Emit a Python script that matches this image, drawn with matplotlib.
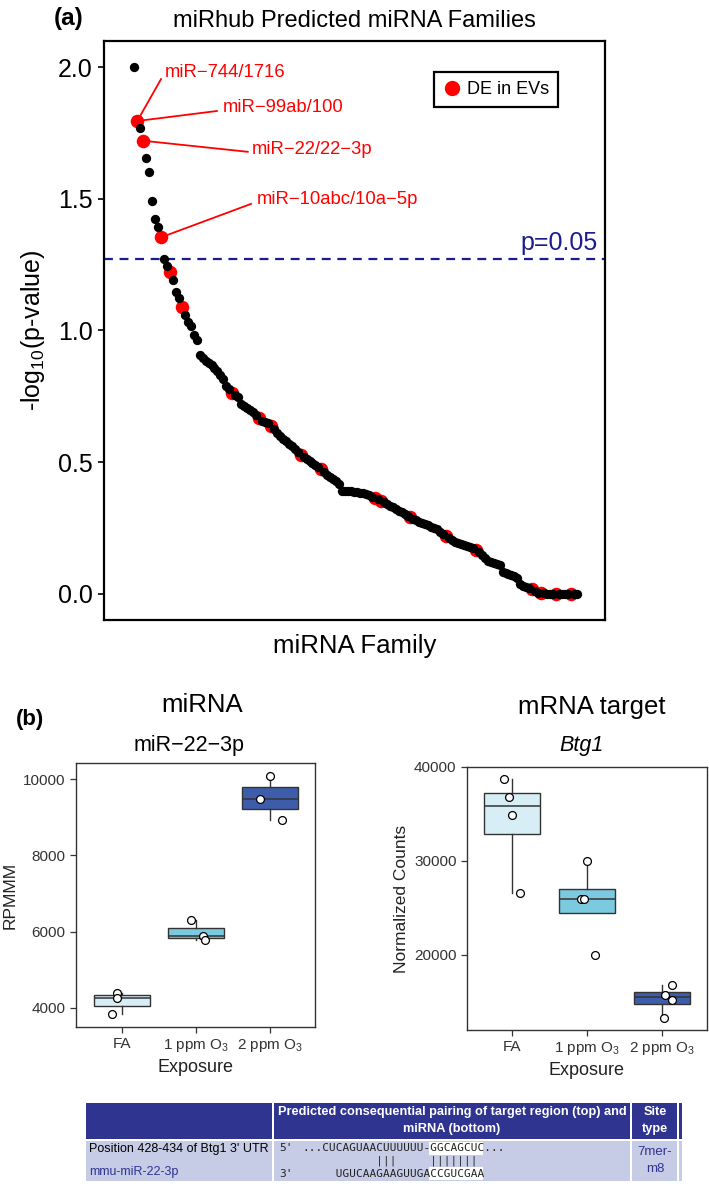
import matplotlib
matplotlib.use("Agg")
import matplotlib.pyplot as plt
from matplotlib.lines import Line2D
from matplotlib.patches import Rectangle
import numpy as np

plt.rcParams['font.family'] = ['Liberation Sans', 'DejaVu Sans']
plt.rcParams['mathtext.default'] = 'regular'

# ── DATA ──────────────────────────────────────────────────
# panel (a): -log10(p) of miRhub predicted families, ranked
neglogp = [
    2.000, 1.796, 1.770, 1.721, 1.656, 1.601, 1.493, 1.423, 1.395, 1.354,
    1.271, 1.245, 1.224, 1.192, 1.148, 1.123, 1.088, 1.059, 1.034, 1.017,
    0.983, 0.964, 0.907, 0.897, 0.886, 0.878, 0.869, 0.858, 0.848, 0.830,
    0.815, 0.790, 0.778, 0.763, 0.755, 0.748, 0.722, 0.712, 0.705, 0.699,
    0.690, 0.678, 0.667, 0.658, 0.652, 0.647, 0.638, 0.625, 0.610, 0.598,
    0.588, 0.579, 0.570, 0.560, 0.548, 0.537, 0.527, 0.518, 0.510, 0.503,
    0.497, 0.488, 0.480, 0.473, 0.462, 0.452, 0.443, 0.434, 0.428, 0.418,
    0.392, 0.390, 0.389, 0.389, 0.388, 0.386, 0.384, 0.382, 0.379, 0.375,
    0.368, 0.362, 0.358, 0.353, 0.347, 0.341, 0.335, 0.329, 0.322, 0.315,
    0.309, 0.302, 0.297, 0.292, 0.285, 0.279, 0.274, 0.270, 0.265, 0.260,
    0.255, 0.250, 0.245, 0.236, 0.226, 0.219, 0.210, 0.203, 0.198, 0.194,
    0.190, 0.186, 0.181, 0.176, 0.172, 0.167, 0.160, 0.148, 0.136, 0.125,
    0.120, 0.116, 0.112, 0.108, 0.083, 0.077, 0.073, 0.070, 0.068, 0.060,
    0.036, 0.030, 0.025, 0.020, 0.017, 0.010, 0.004, 0.002, 0.001, 0.000,
    0.000, 0.000, 0.000, 0.000, 0.000, 0.000, 0.000, 0.000, 0.000, 0.000,
]
# ranks of families that are DE in EVs
de_ranks = [1, 3, 9, 12, 16, 33, 42, 46, 56, 63, 81, 83, 93, 105, 115,
            134, 137, 142, 147]
label_ranks = [1, 1, 3, 9]
label_names = ['miR\u2212744/1716', 'miR\u221299ab/100',
               'miR\u221222/22\u22123p', 'miR\u221210abc/10a\u22125p']
p_cut = 1.27

# panel (b)
exposures = ['FA', '1 ppm O$_3$', '2 ppm O$_3$']
box_colors = ['#d8eef6', '#7ccae0', '#3d5dab']
mirna_vals = [[4400, 4270, 3830], [6295, 5895, 5790], [10080, 9480, 8930]]
mirna_jit = [[-0.06, -0.06, -0.14], [-0.06, 0.10, 0.13], [0.0, -0.13, 0.16]]
mrna_vals = [[38720, 36800, 34890, 26600], [30000, 25960, 25900, 20000],
             [16800, 15740, 15210, 13300]]
mrna_jit = [[-0.11, -0.04, 0.0, 0.11], [0.0, -0.08, -0.04, 0.10],
            [0.13, 0.04, 0.13, 0.03]]

W, H = 709, 1192
fig = plt.figure(figsize=(W / 100, H / 100), dpi=100)

# ── Panel (a) ─────────────────────────────────────────────
ax = fig.add_axes([104 / W, 1 - 620 / H, 501 / W, 579 / H])
x = np.arange(len(neglogp))
y = np.array(neglogp)
is_de = np.isin(x, de_ranks)

# callout placement: (text x, text y, line start x, line start y)
callouts = [(10.2, 1.979, 9.0, 1.955), (29.8, 1.848, 27.8, 1.834),
            (39.6, 1.689, 38.2, 1.679), (41.2, 1.496, 39.3, 1.481)]
for r, name, (tx, ty, lx, ly) in zip(label_ranks, label_names, callouts):
    ax.plot([lx, x[r]], [ly, y[r]], color='red', lw=1.3, zorder=1)
    ax.text(tx, ty, name, color='red', fontsize=13.3, va='center', ha='left')

ax.scatter(x[is_de], y[is_de], s=95, color='red', zorder=2, linewidths=0)
ax.scatter(x[~is_de], y[~is_de], s=45, color='black', zorder=3, linewidths=0)
ax.axhline(p_cut, color='#1c1c8c', lw=1.6, ls=(0, (4, 3)), zorder=0)
ax.text(0.985, p_cut + 0.015, 'p=0.05', transform=ax.get_yaxis_transform(),
        ha='right', va='bottom', color='#1c1c8c', fontsize=18)

ax.set_xlim(-10.2, 158.5)
ax.set_ylim(-0.1, 2.1)
ax.set_xticks([])
ax.set_yticks([0.0, 0.5, 1.0, 1.5, 2.0])
ax.set_yticklabels(['0.0', '0.5', '1.0', '1.5', '2.0'])
ax.tick_params(axis='y', labelsize=18, length=4, width=1.2, pad=4)
for sp in ax.spines.values():
    sp.set_linewidth(1.6)
ax.set_xlabel('miRNA Family', fontsize=18.5, labelpad=10)
ax.set_ylabel('-log$_{10}$(p-value)', fontsize=18, labelpad=8)
ax.set_title('miRhub Predicted miRNA Families', fontsize=17, pad=10)

handle = Line2D([], [], marker='o', ls='', color='red', markersize=10)
leg = ax.legend([handle], ['DE in EVs'], loc='upper right',
                bbox_to_anchor=(0.924, 0.962), fontsize=13, fancybox=False,
                framealpha=1, edgecolor='black', handletextpad=0.3,
                borderpad=0.5, handlelength=1.0)
leg.get_frame().set_linewidth(1.6)

fig.text(69 / W, 1 - 18 / H, '(a)', fontsize=17.5, fontweight='bold',
         ha='center', va='center')

# ── Panel (b) ─────────────────────────────────────────────
def box_panel(rect, vals, jit, xlim, ylim, yticks, ylabel):
    axb = fig.add_axes(rect)
    pos = np.arange(len(vals))
    bp = axb.boxplot(vals, positions=pos, widths=0.75, patch_artist=True,
                     showfliers=False, showcaps=False, whis=1.5,
                     medianprops=dict(color='#333333', lw=1.1),
                     whiskerprops=dict(color='#333333', lw=1.0),
                     boxprops=dict(edgecolor='#333333', lw=1.0))
    for patch, c in zip(bp['boxes'], box_colors):
        patch.set_facecolor(c)
    for i, (v, j) in enumerate(zip(vals, jit)):
        axb.scatter(np.array(j) + i, v, s=32, facecolor='white',
                    edgecolor='black', lw=0.9, zorder=4)
    axb.set_xlim(*xlim)
    axb.set_ylim(*ylim)
    axb.set_xticks(pos)
    axb.set_xticklabels(exposures)
    axb.set_yticks(yticks)
    axb.tick_params(labelsize=11, colors='#333333', labelcolor='#333333',
                    length=4, width=0.9)
    for sp in axb.spines.values():
        sp.set_color('#333333')
        sp.set_linewidth(1.0)
    axb.set_xlabel('Exposure', fontsize=13, color='#222222', labelpad=3)
    axb.set_ylabel(ylabel, fontsize=12.5, color='#222222')
    return axb

box_panel([76 / W, 1 - 1027 / H, 239 / W, 264 / H], mirna_vals, mirna_jit,
          (-0.62, 2.61), (3500, 10420), [4000, 6000, 8000, 10000], 'RPMMM')
box_panel([467 / W, 1 - 1030 / H, 240 / W, 263 / H], mrna_vals, mrna_jit,
          (-0.6, 2.6), (12000, 40000), [20000, 30000, 40000],
          'Normalized Counts')

fig.text(30 / W, 1 - 720 / H, '(b)', fontsize=16, fontweight='bold',
         ha='center', va='center')
fig.text(202 / W, 1 - 705 / H, 'miRNA', fontsize=18.5, ha='center', va='center')
fig.text(189 / W, 1 - 745 / H, 'miR\u221222\u22123p', fontsize=15.5,
         ha='center', va='center')
fig.text(592 / W, 1 - 707 / H, 'mRNA target', fontsize=18.5, ha='center',
         va='center')
fig.text(582 / W, 1 - 745 / H, 'Btg1', fontsize=15.5, style='italic',
         ha='center', va='center')

# ── TargetScan-style pairing table ────────────────────────
tb = fig.add_axes([0, 0, 1, 1])
tb.set_xlim(0, W)
tb.set_ylim(H, 0)
tb.axis('off')
navy = '#2f3490'
lav = '#c6cbe6'
cells = [(86, 1103, 186, 36, navy), (274, 1103, 356, 36, navy),
         (632, 1103, 45, 36, navy), (679, 1103, 3, 36, navy),
         (86, 1141, 186, 40, lav), (274, 1141, 356, 40, lav),
         (632, 1141, 45, 40, lav), (679, 1141, 3, 40, lav)]
for cx, cy, cw_, ch, cc in cells:
    tb.add_patch(Rectangle((cx, cy), cw_, ch, facecolor=cc, edgecolor='none'))
hdr = dict(color='white', fontweight='bold', fontsize=9.2, ha='center',
           va='center')
tb.text(452, 1112, 'Predicted consequential pairing of target region (top) and',
        **hdr)
tb.text(452, 1129, 'miRNA (bottom)', **hdr)
tb.text(655, 1112, 'Site', **hdr)
tb.text(655, 1129, 'type', **hdr)
tb.text(89, 1149, "Position 428-434 of Btg1 3' UTR", color='black',
        fontsize=9, ha='left', va='center')
tb.text(89, 1172, 'mmu-miR-22-3p', color='#2f3490', fontsize=9,
        ha='left', va='center')
tb.text(655, 1152, '7mer-', color='#2f3490', fontsize=9.5, ha='center',
        va='center')
tb.text(655, 1169, 'm8', color='#2f3490', fontsize=9.5, ha='center',
        va='center')

cw = 6.69
x0 = 302
top_seq = '...CUCAGUAACUUUUUU-GGCAGCUC...'
pipes = '           |||     |||||||'
bot_seq = '     UGUCAAGAAGUUGACCGUCGAA'
for yy in (1141.5, 1167):
    tb.add_patch(Rectangle((x0 + 19 * cw, yy), 8 * cw, 13, facecolor='white',
                           edgecolor='none'))
mono = dict(family='DejaVu Sans Mono', fontsize=8, color='#222222',
            ha='left', va='center')
tb.text(x0, 1148, top_seq, **mono)
tb.text(x0, 1161, pipes, **mono)
tb.text(x0, 1174, bot_seq, **mono)
tb.text(279, 1148, "5'", **mono)
tb.text(279, 1174, "3'", **mono)

fig.savefig('out.png', dpi=100)
